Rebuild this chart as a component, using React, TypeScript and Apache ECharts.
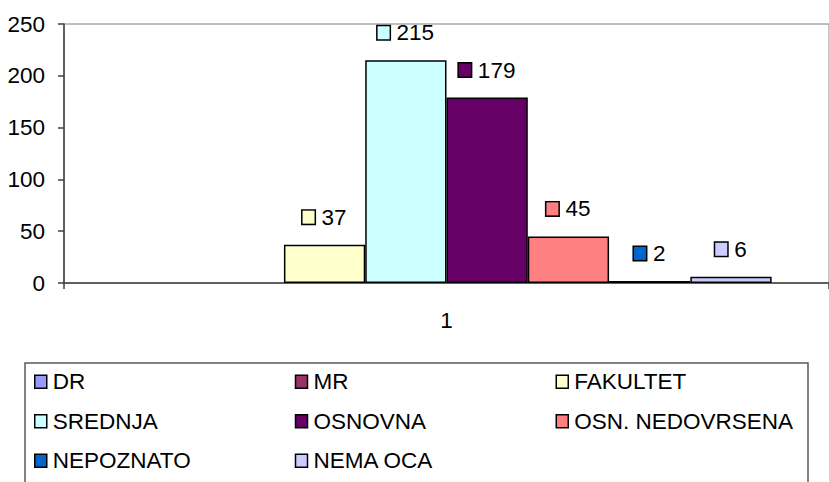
import React, { useEffect, useRef } from "react";
import * as echarts from "echarts";

const categories = ["1"];
const seriesNames = ["DR", "MR", "FAKULTET", "SREDNJA", "OSNOVNA", "OSN. NEDOVRSENA", "NEPOZNATO", "NEMA OCA"];
const seriesValues = [0, 0, 37, 215, 179, 45, 2, 6];
const seriesColors = ["#9999FF", "#993366", "#FFFFCC", "#CCFFFF", "#660066", "#FF8080", "#0066CC", "#CCCCFF"];
const yMin = 0;
const yMax = 250;
const yStep = 50;

const FONT = "'Liberation Sans', Arial, sans-serif";
const FS = 22.5;

export default function App() {
  const ref = useRef<HTMLDivElement>(null);
  useEffect(() => {
    if (!ref.current) return;
    const chart = echarts.init(ref.current, undefined, { renderer: "svg" });
    chart.setOption({
      animation: false,
      backgroundColor: "#ffffff",
      textStyle: { fontFamily: FONT },
      grid: {
        left: 64,
        top: 24,
        width: 767,
        height: 259,
        show: true,
        borderColor: "#808080",
        borderWidth: 1,
      },
      xAxis: {
        type: "category",
        data: categories,
        axisLine: { lineStyle: { color: "#404040", width: 1.5 } },
        axisTick: { show: true, length: 6, lineStyle: { color: "#404040", width: 1.5 } },
        axisLabel: { fontSize: FS, color: "#000", fontFamily: FONT, margin: 26 },
      },
      yAxis: {
        type: "value",
        min: yMin,
        max: yMax,
        interval: yStep,
        axisLine: { show: true, lineStyle: { color: "#404040", width: 1.5 } },
        axisTick: { show: true, length: 6, lineStyle: { color: "#404040", width: 1.5 } },
        splitLine: { show: false },
        axisLabel: { fontSize: FS, color: "#000", fontFamily: FONT, margin: 19 },
      },
      legend: {
        left: 34,
        top: 362,
        width: 790,
        padding: 0,
        itemGap: 0,
        itemWidth: 12,
        itemHeight: 13,
        icon: "rect",
        itemStyle: { borderColor: "#000", borderWidth: 1.5 },
        textStyle: {
          fontSize: FS,
          fontFamily: FONT,
          color: "#000",
          width: 242,
          lineHeight: 39.5,
          padding: [0, 0, 0, 1],
        },
        data: seriesNames,
      },
      graphic: [
        {
          type: "rect",
          shape: { x: 25, y: 363, width: 783, height: 200 },
          style: { fill: "none", stroke: "#5a5a5a", lineWidth: 1.5 },
          silent: true,
        },
      ],
      series: seriesNames.map((name, i) => ({
        type: "bar",
        name,
        data: [seriesValues[i]],
        barGap: "0%",
        barCategoryGap: "15%",
        itemStyle: {
          color: seriesColors[i],
          borderColor: "#000",
          borderWidth: seriesValues[i] > 0 ? 1.5 : 0,
        },
        label: {
          show: seriesValues[i] > 0,
          position: "top",
          distance: 16,
          formatter: "{sq|}{gap|}{v|{c}}",
          rich: {
            sq: {
              width: 12,
              height: 13,
              backgroundColor: seriesColors[i],
              borderColor: "#000",
              borderWidth: 1.5,
            },
            gap: { width: 7 },
            v: { fontSize: FS, fontFamily: FONT, color: "#000" },
          },
        },
      })),
    });
    return () => chart.dispose();
  }, []);
  return (
    <div
      ref={ref}
      style={{ position: "absolute", left: 0, top: 0, width: 829, height: 482 }}
    />
  );
}
